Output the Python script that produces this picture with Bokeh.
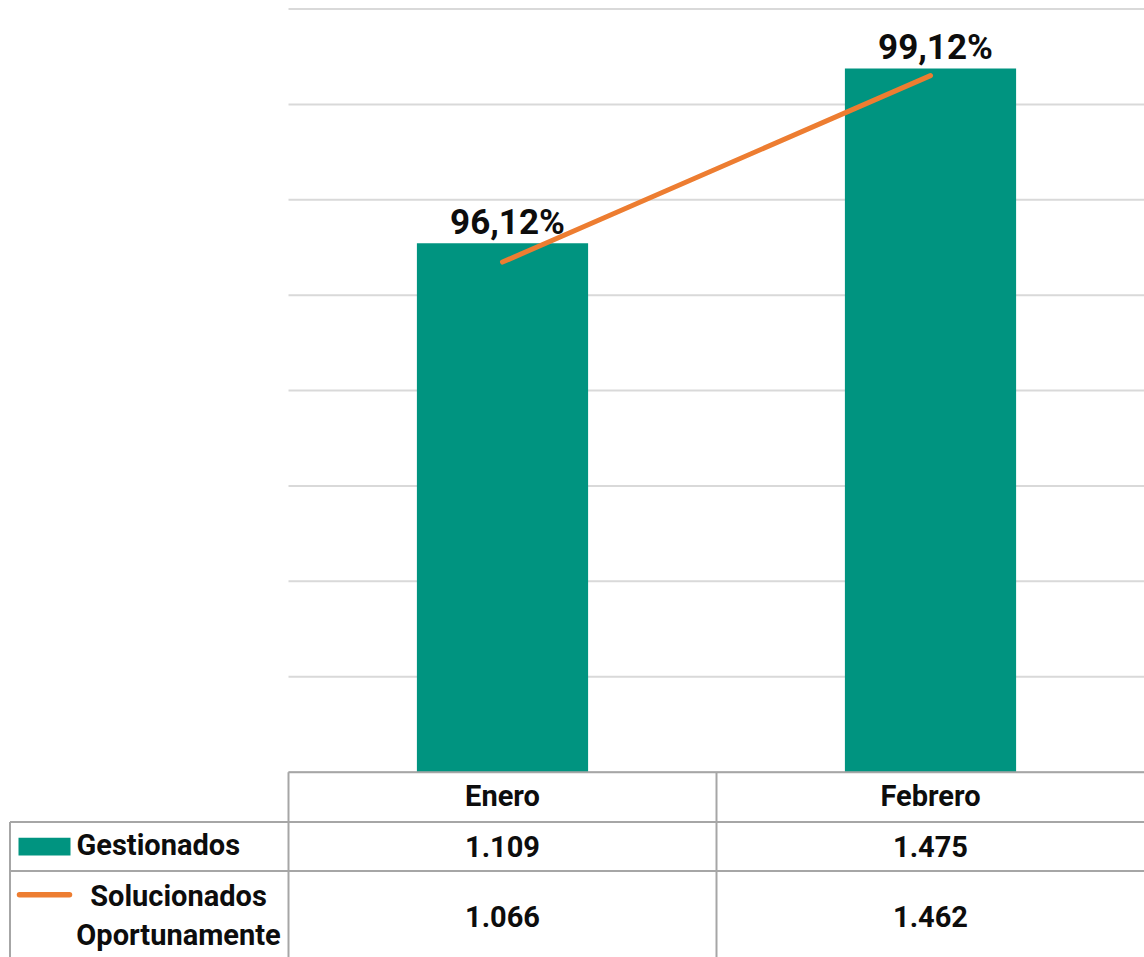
from bokeh.plotting import figure
from bokeh.models import Range1d
from bokeh.core.properties import value
from bokeh.embed import file_html
from bokeh.resources import INLINE

# ---- data ----
months = ["Enero", "Febrero"]
gestionados = [1109, 1475]
solucionados = [1066, 1462]
series_names = ["Gestionados", "Solucionados", "Oportunamente"]
y_ticks = [0, 200, 400, 600, 800, 1000, 1200, 1400, 1600]

pct = [s / g * 100 for s, g in zip(solucionados, gestionados)]
pct_labels = [f"{v:.2f}".replace(".", ",") + "%" for v in pct]


def thousands(v):
    return f"{v:,}".replace(",", ".")


# ---- style ----
FONT = "Roboto"
TEAL = "#009480"
ORANGE = "#ED7D31"
GRID = "#D9D9D9"
BORDER = "#A6A6A6"
TXT = "#0D0D0D"
LBL_SIZE = 35
TBL_SIZE = 29
BL_FIX = 0.37   # baseline correction (fraction of font size)

W, H = 1144, 957
LEFT = 288            # left edge of the plot area (px)
BASE = 771.5          # y pixel of value 0
TOP = 8.5             # y pixel of the top gridline
COL_W = (W - LEFT) / len(months)
y_scale = (BASE - TOP) / y_ticks[-1]

p = figure(width=W, height=H,
           x_range=Range1d(-LEFT / COL_W, len(months)),
           y_range=Range1d(-(H - BASE) / y_scale, y_ticks[-1] + TOP / y_scale),
           output_backend="svg", toolbar_location=None,
           x_axis_location=None, y_axis_location=None,
           min_border_left=0, min_border_right=0, min_border_top=0, min_border_bottom=0,
           outline_line_color=None, background_fill_color="white", border_fill_color="white")
p.grid.visible = False

# secondary (percentage) scale and pixel scales for the data table
p_hi, p_lo = 100.325, 84.95
p.extra_y_ranges = {"pct": Range1d(p_lo, p_hi), "px": Range1d(H, 0)}
p.extra_x_ranges = {"px": Range1d(0, W)}

centers = [i + 0.5 for i in range(len(months))]
bounds = [float(i) for i in range(len(months))]
x_end = float(len(months))

# gridlines
p.segment(x0=[0.0] * len(y_ticks), x1=[x_end] * len(y_ticks), y0=y_ticks, y1=y_ticks,
          line_color=GRID, line_width=2)

# bars, line, labels
p.vbar(x=centers, top=gestionados, bottom=0, width=0.4, fill_color=TEAL, line_color=None)
p.line(x=centers, y=pct, y_range_name="pct", line_color=ORANGE, line_width=5, line_cap="round")
p.text(x=centers, y=gestionados, text=pct_labels, text_font=value(FONT), text_font_style="bold",
       text_font_size=f"{LBL_SIZE}px", text_align="center", text_baseline="alphabetic",
       x_offset=5, y_offset=-8 - BL_FIX * LBL_SIZE, text_color=TXT)

# ---- data table ----
hx0 = [0.0, -LEFT / COL_W + 9.5 / COL_W, -LEFT / COL_W + 9.5 / COL_W]
hy = [771.7, 821.5, 870.5]
p.segment(x0=hx0, x1=[x_end] * 3, y0=hy, y1=hy, y_range_name="px",
          line_color=BORDER, line_width=2)
vx = bounds
p.segment(x0=vx, x1=vx, y0=[771.7] * len(vx), y1=[H] * len(vx), y_range_name="px",
          line_color=BORDER, line_width=2)
p.segment(x0=[9.5], x1=[9.5], y0=[821.5], y1=[H], x_range_name="px", y_range_name="px",
          line_color=BORDER, line_width=2)

common = dict(text_font=value(FONT), text_font_style="bold", text_color=TXT,
              text_baseline="alphabetic", text_font_size=f"{TBL_SIZE}px",
              y_offset=-BL_FIX * TBL_SIZE, y_range_name="px")
p.text(x=centers, y=[806.7] * len(months), text=months, text_align="center", **common)
p.text(x=centers, y=[856.7] * len(months), text=[thousands(v) for v in gestionados],
       text_align="center", **common)
p.text(x=centers, y=[926.7] * len(months), text=[thousands(v) for v in solucionados],
       text_align="center", **common)

# legend keys + row labels
p.quad(left=[18], right=[70], top=[837.3], bottom=[855], x_range_name="px", y_range_name="px",
       fill_color=TEAL, line_color=None)
p.segment(x0=[19], y0=[894.3], x1=[69], y1=[894.3], x_range_name="px", y_range_name="px",
          line_color=ORANGE, line_width=5.5, line_cap="round")
p.text(x=[76], y=[855.7], text=[series_names[0]], text_align="left", x_range_name="px", **common)
p.text(x=[178, 178], y=[906, 945], text=series_names[1:], text_align="center",
       x_range_name="px", **common)

open("out.html", "w").write(file_html(p, INLINE))
